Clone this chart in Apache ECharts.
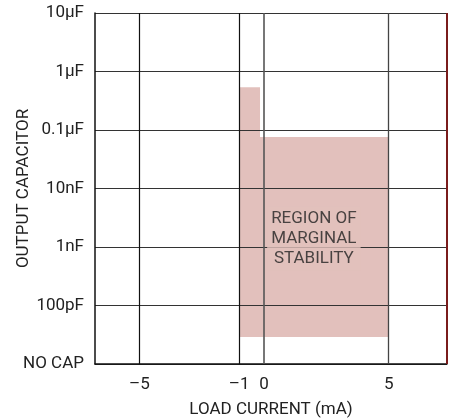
<!DOCTYPE html>
<html>
<head>
<meta charset="utf-8">
<script src="https://cdn.jsdelivr.net/npm/echarts@6/dist/echarts.min.js"></script>
<style>
html,body{margin:0;padding:0;background:#fff;}
#chart{width:453px;height:418px;}
</style>
</head>
<body>
<div id="chart"></div>
<script>
// y axis: evenly spaced decades, index -> label
const yLabels = ['NO CAP', '100pF', '1nF', '10nF', '0.1µF', '1µF', '10µF'];
// x axis tick values and labels
const xTicks = [-5, -1, 0, 5];
const xTickLabels = {'-5': '–5', '-1': '–1', '0': '0', '5': '5'};
// region of marginal stability, rectangles [x0, x1, y0, y1] (y in decade index units)
const regionRects = [
  [-1, -0.16, 0.46, 4.73],
  [-1, 5, 0.46, 3.88]
];
const regionLabelPos = [2.0, 2.14];
const regionLabel = 'REGION OF\nMARGINAL\nSTABILITY';
const xMin = -6.78, xMax = 7.34;

const FONT = "Roboto, sans-serif";
const FS = 17;
const PINK = '#e2c0bc';

const chart = echarts.init(document.getElementById('chart'), null, {renderer: 'canvas'});
chart.setOption({
  animation: false,
  backgroundColor: '#fff',
  textStyle: {fontFamily: FONT},
  grid: {left: 95, right: 6, top: 13, bottom: 54, containLabel: false, outerBoundsMode: 'none'},
  xAxis: {
    type: 'value', min: xMin, max: xMax, z: 3,
    name: 'LOAD CURRENT (mA)', nameLocation: 'middle', nameGap: 37, nameMoveOverlap: false,
    nameTextStyle: {fontFamily: FONT, fontSize: FS, color: '#222'},
    axisLine: {show: true, onZero: false, lineStyle: {color: '#111', width: 1.5}},
    axisTick: {show: false},
    splitLine: {show: false},
    axisLabel: {
      customValues: xTicks, margin: 12,
      fontFamily: FONT, fontSize: FS, color: '#222',
      formatter: v => xTickLabels[String(v)]
    }
  },
  yAxis: {
    type: 'value', min: 0, max: 6, interval: 1, z: 3,
    name: 'OUTPUT CAPACITOR', nameLocation: 'middle', nameGap: 63, nameRotate: 90, nameMoveOverlap: false,
    nameTextStyle: {fontFamily: FONT, fontSize: FS, color: '#222'},
    axisLine: {show: true, onZero: false, lineStyle: {color: '#111', width: 1.5}},
    axisTick: {show: false},
    splitLine: {show: true, lineStyle: {color: '#333', width: 1.2}},
    axisLabel: {
      margin: 11, fontFamily: FONT, fontSize: FS, color: '#222',
      formatter: v => yLabels[Math.round(v)]
    }
  },
  series: [
    {
      type: 'custom', z: 1, silent: true,
      data: regionRects,
      renderItem: function (params, api) {
        const p0 = api.coord([api.value(0), api.value(3)]);
        const p1 = api.coord([api.value(1), api.value(2)]);
        return {
          type: 'rect',
          shape: {x: p0[0], y: p0[1], width: p1[0] - p0[0], height: p1[1] - p0[1]},
          style: {fill: PINK}
        };
      }
    },
    {
      type: 'line', z: 4, data: [], silent: true,
      markLine: {
        silent: true, symbol: 'none', label: {show: false}, animation: false,
        data: [
          {xAxis: -5, lineStyle: {color: '#111', width: 1.2, type: 'solid'}},
          {xAxis: -1, lineStyle: {color: '#111', width: 1.2, type: 'solid'}},
          {xAxis: 0, lineStyle: {color: '#555', width: 1.6, type: 'solid'}},
          {xAxis: 5, lineStyle: {color: '#444', width: 1.3, type: 'solid'}},
          {xAxis: xMax, lineStyle: {color: '#7a1c1c', width: 2, type: 'solid'}}
        ]
      }
    },
    {
      type: 'scatter', z: 6, silent: true, symbolSize: 0,
      data: [regionLabelPos],
      label: {
        show: true, position: 'inside',
        formatter: regionLabel,
        fontFamily: FONT, fontSize: FS, lineHeight: 20, color: '#222',
        align: 'center', verticalAlign: 'middle',
        backgroundColor: PINK, padding: [2, 4]
      }
    }
  ]
});
</script>
</body>
</html>
